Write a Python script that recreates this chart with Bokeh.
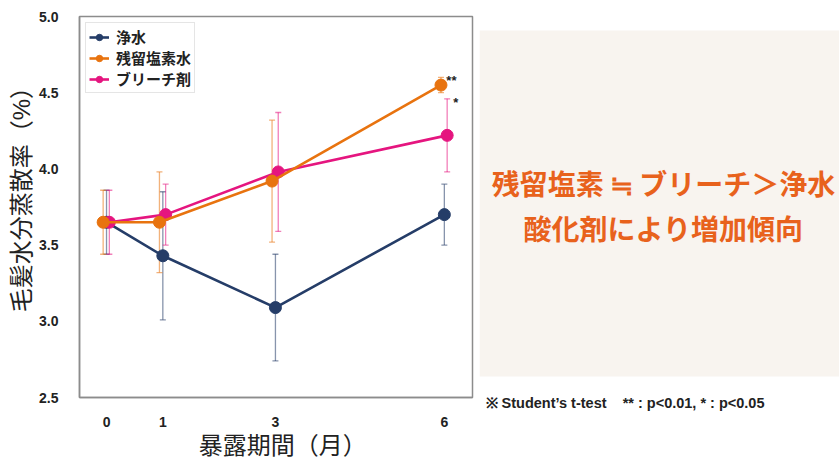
from bokeh.plotting import figure
from bokeh.layouts import row
from bokeh.models import (ColumnDataSource, Whisker, TeeHead, Legend, LegendItem,
                          FixedTicker, NumeralTickFormatter, Range1d, Label, Title)
from bokeh.transform import dodge
from bokeh.core.properties import value
from bokeh.embed import file_html
from bokeh.resources import INLINE

# exposure period (months)
months = [0, 1, 3, 6]

# hair water evaporation rate (%) : mean and SD per treatment
water = [3.65, 3.43, 3.09, 3.70]
water_sd = [0.21, 0.42, 0.35, 0.20]
chlorine = [3.65, 3.65, 3.92, 4.55]
chlorine_sd = [0.21, 0.33, 0.40, 0.05]
bleach = [3.65, 3.70, 3.98, 4.22]
bleach_sd = [0.21, 0.20, 0.39, 0.24]

series_names = ["浄水", "残留塩素水", "ブリーチ剤"]
x_ticks = [0, 1, 3, 6]
y_ticks = [2.5, 3.0, 3.5, 4.0, 4.5, 5.0]
sig_marks = ["**", "*"]

summary_lines = ["残留塩素 ≒ ブリーチ＞浄水", "酸化剤により増加傾向"]
footnote = "※ Student’s t-test\u00a0\u00a0\u00a0\u00a0** : p<0.01, * : p<0.05"

NAVY = "#253d68"
ORANGE = "#e8730f"
PINK = "#e5157f"
JP = "Noto Sans CJK JP"
LAT = "Liberation Sans"
# Latin metrics first keep the axis titles compact; CJK glyphs come from Noto
TITLE_FONT = "Liberation Sans, Noto Sans CJK JP"
NBSP = "\u00a0"

H = 461
TOP, BOTTOM = 16, 62

p = figure(width=479, height=H, x_range=Range1d(-0.48, 6.5), y_range=Range1d(2.5, 5.0),
           output_backend="svg", toolbar_location=None,
           min_border_left=79, min_border_right=7, min_border_top=TOP, min_border_bottom=BOTTOM)
p.background_fill_color = "white"
p.border_fill_color = "white"
p.outline_line_color = "#8c8c8c"
p.outline_line_width = 1.5
p.xgrid.visible = False
p.ygrid.visible = False

for ax in (p.xaxis[0], p.yaxis[0]):
    ax.axis_line_color = "#8c8c8c"
    ax.axis_line_width = 1.5
    ax.major_tick_line_color = None
    ax.minor_tick_line_color = None
    ax.major_label_text_font = LAT
    ax.major_label_text_font_style = "bold"
    ax.major_label_text_font_size = "14px"
    ax.major_label_text_color = "#222222"
    ax.axis_label_text_font = TITLE_FONT
    ax.axis_label_text_font_style = "normal"
    ax.axis_label_text_font_size = "24px"
    ax.axis_label_text_color = "#222222"

p.xaxis.ticker = FixedTicker(ticks=x_ticks)
p.yaxis.ticker = FixedTicker(ticks=y_ticks)
p.yaxis.formatter = NumeralTickFormatter(format="0.0")
p.xaxis.major_label_standoff = 13
p.yaxis.major_label_standoff = 15
# leading spaces nudge the titles off-centre along their axes
p.xaxis.axis_label = NBSP * 2 + "暴露期間（月）"
p.yaxis.axis_label = NBSP * 4 + "毛髪水分蒸散率（%）"
p.xaxis.axis_label_standoff = 2
p.yaxis.axis_label_standoff = 1


def draw(vals, sd, color, shift):
    src = ColumnDataSource(dict(
        x=months, y=vals,
        lo=[v - s for v, s in zip(vals, sd)],
        hi=[v + s for v, s in zip(vals, sd)],
    ))
    xs = dodge("x", shift)
    w = Whisker(source=src, base=xs, lower="lo", upper="hi", dimension="height",
                line_color=color, line_alpha=0.55, line_width=1.3,
                upper_head=TeeHead(size=6, line_color=color, line_alpha=0.55, line_width=1.3),
                lower_head=TeeHead(size=6, line_color=color, line_alpha=0.55, line_width=1.3))
    p.add_layout(w)
    ln = p.line(x=xs, y="y", source=src, line_color=color, line_width=2.6)
    sc = p.scatter(x=xs, y="y", source=src, size=12, fill_color=color, line_color=color)
    return [ln, sc]


r_water = draw(water, water_sd, NAVY, 0.0)
r_bleach = draw(bleach, bleach_sd, PINK, 0.05)
r_chlor = draw(chlorine, chlorine_sd, ORANGE, -0.06)

# significance marks at 6 months
p.text(x=[months[-1]], y=[chlorine[-1]], text=[sig_marks[0]], x_offset=2, y_offset=-5,
       text_font=value(LAT), text_font_style="bold", text_font_size="13px",
       text_color="#222222", text_baseline="middle", text_align="left")
p.text(x=[months[-1]], y=[bleach[-1] + bleach_sd[-1]], text=[sig_marks[1]], x_offset=9, y_offset=4,
       text_font=value(LAT), text_font_style="bold", text_font_size="13px",
       text_color="#222222", text_baseline="middle", text_align="left")

legend = Legend(items=[LegendItem(label=series_names[0], renderers=r_water),
                       LegendItem(label=series_names[1], renderers=r_chlor),
                       LegendItem(label=series_names[2], renderers=r_bleach)],
                location="top_left")
legend.label_text_font = JP
legend.label_text_font_style = "bold"
legend.label_text_font_size = "15px"
legend.label_text_color = "#222222"
legend.border_line_color = "#cccccc"
legend.border_line_width = 1
legend.glyph_width = 20
legend.glyph_height = 16
legend.spacing = 0
legend.padding = 3
legend.margin = 6
legend.label_standoff = 7
legend.background_fill_alpha = 1.0
p.add_layout(legend)

# summary panel; its frame shares the top/bottom borders of the chart,
# so the y range is laid out in page pixels from TOP to H - BOTTOM
q = figure(width=360, height=H, x_range=Range1d(0, 360), y_range=Range1d(H - BOTTOM, TOP),
           output_backend="svg", toolbar_location=None,
           min_border_left=0, min_border_right=0,
           min_border_top=TOP, min_border_bottom=BOTTOM)
q.axis.visible = False
q.xgrid.visible = False
q.ygrid.visible = False
q.outline_line_color = None
q.background_fill_color = "white"
q.border_fill_color = "white"
q.quad(left=[0], right=[360], top=[30], bottom=[378], fill_color="#f8f4ef", line_color=None)

for i, line in enumerate(summary_lines):
    q.add_layout(Label(x=184, y=183 + 46 * i, text=line, text_font=JP, text_font_style="bold",
                       text_font_size="28px", text_color="#e8621c",
                       text_align="center", text_baseline="middle"))

q.add_layout(Title(text=footnote, align="left", offset=6, standoff=-9,
                   text_font=LAT, text_font_style="bold", text_font_size="14.5px",
                   text_color="#222222"), "below")

layout = row(p, q, spacing=0)
open("out.html", "w").write(file_html(layout, INLINE))
